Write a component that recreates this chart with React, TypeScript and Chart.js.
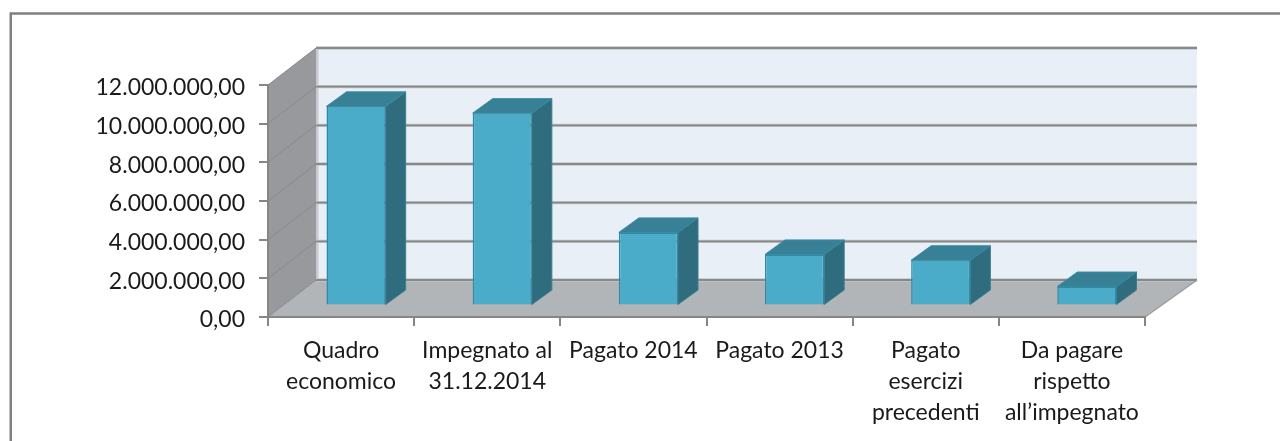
import React, { useEffect, useRef } from "react";
import { Chart, registerables } from "chart.js";

Chart.register(...registerables);

const categories: (string | string[])[] = [
  ["Quadro", "economico"],
  ["Impegnato al", "31.12.2014"],
  "Pagato 2014",
  "Pagato 2013",
  ["Pagato", "esercizi", "precedenti"],
  ["Da pagare", "rispetto", "all\u2019impegnato"],
];
const seriesValues = [10300000, 9950000, 3780000, 2640000, 2340000, 980000];
const yTickLabels = [
  "0,00",
  "2.000.000,00",
  "4.000.000,00",
  "6.000.000,00",
  "8.000.000,00",
  "10.000.000,00",
  "12.000.000,00",
];

const DEPTH_X = 48;
const DEPTH_X_RIGHT = 52;
const DEPTH_Y = 37;
const BAR_SHIFT_X = 15;
const BAR_SHIFT_Y = 11.5;
const BAR_DEPTH_X = 20;
const BAR_DEPTH_Y = 14.5;

function poly(ctx: CanvasRenderingContext2D, pts: number[][], fill?: any, stroke?: string, lw = 1) {
  ctx.beginPath();
  pts.forEach(([x, y], i) => (i ? ctx.lineTo(x, y) : ctx.moveTo(x, y)));
  ctx.closePath();
  if (fill) {
    ctx.fillStyle = fill;
    ctx.fill();
  }
  if (stroke) {
    ctx.strokeStyle = stroke;
    ctx.lineWidth = lw;
    ctx.stroke();
  }
}

const wallsPlugin = {
  id: "walls",
  beforeDraw(chart: any) {
    const { ctx, chartArea: a, scales } = chart;
    const y = scales.y;
    const L = a.left, R = a.right, T = a.top, B = a.bottom;
    const dx = DEPTH_X, dxr = DEPTH_X_RIGHT, dy = DEPTH_Y;
    ctx.save();
    ctx.fillStyle = "#ffffff";
    ctx.fillRect(0, 0, chart.width, chart.height);

    // outer frame, cut by the picture on the right and at the bottom
    ctx.strokeStyle = "#808080";
    ctx.lineWidth = 2.5;
    ctx.beginPath();
    ctx.moveTo(10.75, 460);
    ctx.lineTo(10.75, 13.5);
    ctx.lineTo(1300, 13.5);
    ctx.stroke();

    // back wall
    poly(ctx, [[L + dx, T - dy], [R + dxr, T - dy], [R + dxr, B - dy], [L + dx, B - dy]], "#E8EFF6");
    // corner band between side and back wall
    ctx.fillStyle = "#C6CACE";
    ctx.fillRect(L + dx, T - dy, 2.5, B - T);
    // side wall
    poly(ctx, [[L, T], [L + dx, T - dy], [L + dx, B - dy], [L, B]], "#97999C");
    // floor
    poly(ctx, [[L, B], [L + dx, B - dy], [R + dxr, B - dy], [R, B]], "#B1B5B8");

    // grid lines on the walls, from the value scale
    y.ticks.forEach((t: any) => {
      const py = y.getPixelForValue(t.value);
      ctx.beginPath();
      ctx.moveTo(L, py);
      ctx.lineTo(L + dx, py - dy);
      ctx.strokeStyle = "#87898C";
      ctx.lineWidth = 1;
      ctx.stroke();
      ctx.beginPath();
      ctx.moveTo(L + dx, py - dy);
      ctx.lineTo(R + dxr, py - dy);
      ctx.strokeStyle = "#C3C7CB";
      ctx.lineWidth = 3.4;
      ctx.stroke();
      ctx.beginPath();
      ctx.moveTo(L + dx, py - dy);
      ctx.lineTo(R + dxr, py - dy);
      ctx.strokeStyle = "#888888";
      ctx.lineWidth = 1.8;
      ctx.stroke();
    });
    // floor right edge
    ctx.beginPath();
    ctx.moveTo(R, B);
    ctx.lineTo(R + dxr, B - dy);
    ctx.strokeStyle = "#9A9D9F";
    ctx.lineWidth = 1.5;
    ctx.stroke();
    ctx.restore();
  },
  beforeDatasetsDraw(chart: any) {
    const { ctx } = chart;
    const meta = chart.getDatasetMeta(0);
    ctx.save();
    meta.data.forEach((bar: any) => {
      const l = bar.x - bar.width / 2 + BAR_SHIFT_X;
      const r = bar.x + bar.width / 2 + BAR_SHIFT_X;
      const t = bar.y - BAR_SHIFT_Y;
      const b = bar.base - BAR_SHIFT_Y;
      const ddx = BAR_DEPTH_X, ddy = BAR_DEPTH_Y;
      poly(ctx, [[r, t], [r + ddx, t - ddy], [r + ddx, b - ddy], [r, b]], "#2F6C7D", "#3A7F92", 1);
      poly(ctx, [[l, t], [l + ddx, t - ddy], [r + ddx, t - ddy], [r, t]], "#378096", "#3A8AA0", 1);
    });
    ctx.restore();
    ctx.save();
    ctx.translate(BAR_SHIFT_X, -BAR_SHIFT_Y);
  },
  afterDatasetsDraw(chart: any) {
    chart.ctx.restore();
  },
};

export default function App() {
  const ref = useRef<HTMLCanvasElement | null>(null);
  useEffect(() => {
    const chart = new Chart(ref.current as HTMLCanvasElement, {
      type: "bar",
      data: {
        labels: categories as any,
        datasets: [
          {
            data: seriesValues,
            backgroundColor: "#4AACC8",
            borderColor: "#2E8AA6",
            borderWidth: 1.5,
            barPercentage: 0.405,
            categoryPercentage: 1,
          },
        ],
      },
      options: {
        animation: false,
        responsive: false,
        layout: { padding: { top: 85, right: 135, left: 0, bottom: 0 } },
        plugins: { legend: { display: false }, title: { display: false }, tooltip: { enabled: false } },
        scales: {
          x: {
            afterFit(s: any) {
              s.height = 124;
            },
            border: { color: "#868686", width: 2 },
            grid: { drawOnChartArea: false, drawTicks: true, tickLength: 9, color: "#868686", lineWidth: 2 },
            ticks: {
              autoSkip: false,
              maxRotation: 0,
              minRotation: 0,
              padding: 9,
              color: "#1A1A1A",
              font: { family: "Lato", size: 23, lineHeight: 31 / 23 },
            },
          },
          y: {
            min: 0,
            max: 12000000,
            afterFit(s: any) {
              s.width = 268;
            },
            border: { color: "#868686", width: 2 },
            grid: { drawOnChartArea: false, drawTicks: true, tickLength: 9, color: "#868686", lineWidth: 2 },
            ticks: {
              stepSize: 2000000,
              padding: 14,
              color: "#1A1A1A",
              font: { family: "Lato", size: 23, lineHeight: 6 / 23 },
              callback: (_v: any, i: number) => ["", yTickLabels[i]],
            },
          },
        },
      },
      plugins: [wallsPlugin as any],
    });
    return () => chart.destroy();
  }, []);
  return (
    <canvas
      ref={ref}
      width={1280}
      height={441}
      style={{ position: "fixed", left: 0, top: 0, width: 1280, height: 441, display: "block" }}
    />
  );
}
